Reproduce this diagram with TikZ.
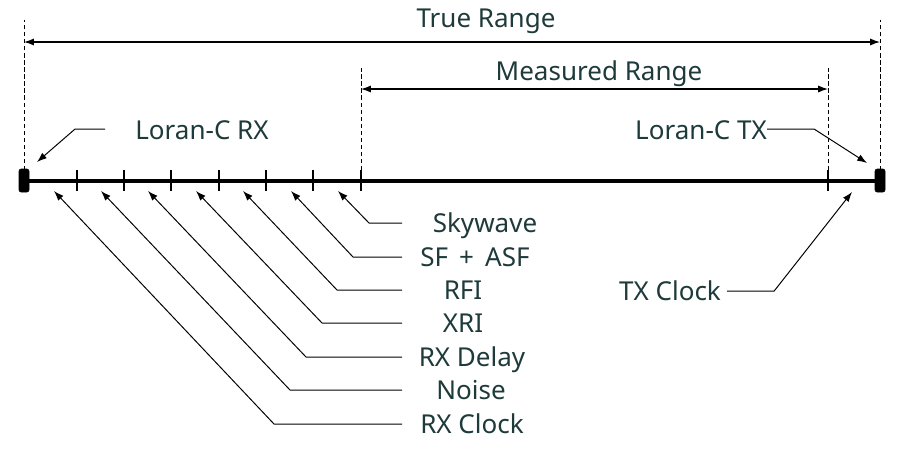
\documentclass[tikz,border=0pt]{standalone}
\usepackage{fontspec}
\setmainfont{Noto Sans}
\usetikzlibrary{arrows.meta}
\definecolor{labeltext}{HTML}{1E3A3A}
\tikzset{
  lbl/.style={text=labeltext,font=\fontsize{18.5}{20}\selectfont,inner sep=0pt,
    text height=13.2pt,text depth=0pt},
  leader/.style={line width=0.7pt,-{Latex[length=7pt,width=5pt]}},
  guide/.style={line width=0.5pt,dash pattern=on 3pt off 2pt},
  spanarrow/.style={line width=0.8pt,{Latex[length=7pt,width=5pt]}-{Latex[length=7pt,width=5pt]}},
}
\begin{document}
\begin{tikzpicture}[x=0.025cm,y=-0.025cm]
        \useasboundingbox (0,0) rectangle (905,463);
        \coordinate (A) at (24,181);
        \coordinate (B) at (880,181);
        \coordinate (C) at (361,181);
        \coordinate (D) at (828,181);
        \coordinate (lx) at (402,0);

        % dashed guides
        \draw[guide] (A) ++(0,-11) -- ++(0,-150);
        \draw[guide] (B) ++(0,-11) -- ++(0,-150);
        \draw[guide] (C) ++(0,-11) -- ++(0,-102);
        \draw[guide] (D) ++(0,-11) -- ++(0,-102);

        % ranges
        \coordinate (TA) at (24,42);
        \coordinate (TB) at (880,42);
        \coordinate (MA) at (361,89);
        \coordinate (MB) at (828,89);
        \draw[spanarrow] (TA) -- (TB);
        \draw[spanarrow] (MA) -- (MB);
        \node[lbl] (true) at (486,18) {True Range};
        \node[lbl] (meas) at (599,71) {Measured Range};

        % baseline
        \draw[line width=2.4pt] (A) -- (B);
        \foreach \x in {77,124,171,219,266,313,361,828}
            \draw[line width=1.5pt] (\x,170) -- (\x,191);
        \draw[fill=black,rounded corners=1.5pt] (19,169) rectangle (29,192);
        \draw[fill=black,rounded corners=1.5pt] (875,169) rectangle (885,192);

        % stations
        \node[lbl] (rx) at (202,130) {Loran-C RX};
        \node[lbl] (tx) at (701,130) {Loran-C TX};
        \node[lbl] (txclk) at (670,291) {TX Clock};
        \coordinate (rxtip) at (37,162);
        \coordinate (txtip) at (867,163);
        \coordinate (txclktip) at (852,192);
        \draw[leader] (rx.west) ++(-30,-1) -- ++(-30,0) -- (rxtip);
        \draw[leader] (tx.east) ++(0,-1) -- ++(47,0) -- (txtip);
        \draw[leader] (txclk.east) ++(6,0) -- ++(47,0) -- (txclktip);

        % error sources
        \node[lbl] (sky) at (485,223) {Skywave};
        \node[lbl] (sf) at (475,257) {SF \,+\, ASF};
        \node[lbl] (rfi) at (463,290) {RFI};
        \node[lbl] (xri) at (463,323) {XRI};
        \node[lbl] (rxd) at (472,357) {RX Delay};
        \node[lbl] (noise) at (471,390) {Noise};
        \node[lbl] (rxclk) at (472,424) {RX Clock};
        \coordinate (skytip) at (338,191);
        \coordinate (sftip) at (291,191);
        \coordinate (rfitip) at (243,191);
        \coordinate (xritip) at (196,191);
        \coordinate (rxdtip) at (148,191);
        \coordinate (noisetip) at (101,191);
        \coordinate (rxclktip) at (54,191);
        \draw[leader] (lx |- sky) -- ++(-33,0) -- (skytip);
        \draw[leader] (lx |- sf) -- ++(-49,0) -- (sftip);
        \draw[leader] (lx |- rfi) -- ++(-65,0) -- (rfitip);
        \draw[leader] (lx |- xri) -- ++(-80,0) -- (xritip);
        \draw[leader] (lx |- rxd) -- ++(-96,0) -- (rxdtip);
        \draw[leader] (lx |- noise) -- ++(-112,0) -- (noisetip);
        \draw[leader] (lx |- rxclk) -- ++(-128,0) -- (rxclktip);
\end{tikzpicture}
\end{document}
